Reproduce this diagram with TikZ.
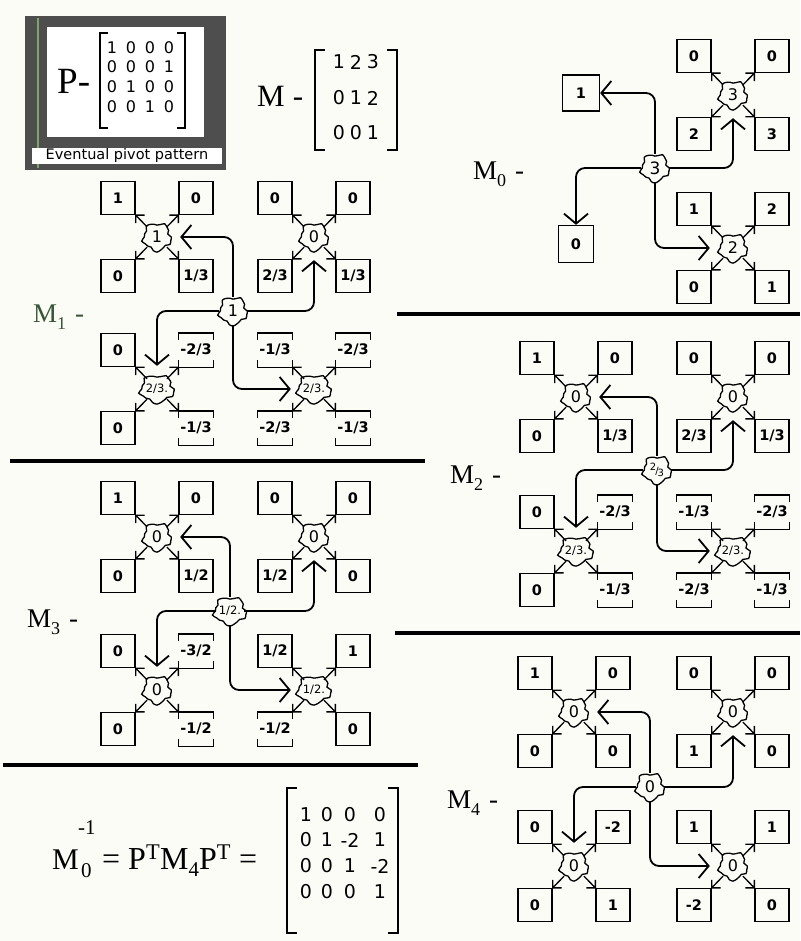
\documentclass[tikz,border=0pt]{standalone}
\usepackage{fontspec}
\setmainfont{Liberation Serif}
\newfontfamily\sansf{DejaVu Sans}
\usetikzlibrary{arrows.meta}
\definecolor{bgc}{RGB}{252,252,247}
\definecolor{framec}{RGB}{78,78,78}
\definecolor{greenc}{RGB}{125,165,105}
\definecolor{mgreen}{RGB}{55,85,55}
\newcommand\boxfont{\sansf\bfseries\fontsize{14.5}{14.5}\selectfont}
\newcommand\blobfont{\sansf\fontsize{16}{16}\selectfont}
\newcommand\smb[1]{{\sansf\fontsize{11.5}{11.5}\selectfont #1}}
\newcommand\stk{{\sansf\fontsize{10}{10}\selectfont\raisebox{3.5pt}{2}\kern-1pt/\kern-1pt\raisebox{-2.5pt}{3}}}
\newcommand\mlabel[1]{M\raisebox{-7pt}{\fontsize{18}{18}\selectfont #1}\hspace{9pt}-}
\tikzset{
  boxline/.style={line width=1.3pt},
  qbox/.style={draw, boxline, minimum width=34pt, minimum height=33pt, inner sep=0pt, font=\boxfont},
  bnode/.style={circle, minimum size=28pt, inner sep=0pt, font=\blobfont},
  blobline/.style={line width=1.3pt},
  mytick/.style={line width=1.3pt},
  myarr/.style={line width=1.8pt, rounded corners=9pt, -{Straight Barb[length=10pt,width=24pt]}, shorten >=9pt},
  mysep/.style={line width=4pt},
  brk/.style={line width=1.8pt},
  mlab/.style={anchor=base west, inner sep=0pt, font=\fontsize{27}{27}\selectfont},
  pent/.style={inner sep=0pt, font=\sansf\fontsize{16}{16}\selectfont},
  ment/.style={inner sep=0pt, font=\sansf\fontsize{19}{19}\selectfont},
}
\newcommand\drawblob[3]{\draw[blobline, shift={(#1,#2)}, xscale=#3] plot[smooth cycle, samples=24, domain=0:345, variable=\t] ({(13.5+1.6*sin(5*\t)+0.8*cos(11*\t))*cos(\t)}, {(13.5+1.6*sin(5*\t)+0.8*cos(11*\t))*sin(\t)});}
\newcommand\qb[3]{\node[qbox] (#2) at #3 {#1};}
\newcommand\qc[3]{\node[qbox, draw=none] (#2) at #3 {#1};
  \draw[boxline] ([yshift=-7pt]#2.north west) -- (#2.north west) -- (#2.north east) -- ([yshift=-7pt]#2.north east)
    ([yshift=7pt]#2.south west) -- (#2.south west) -- (#2.south east) -- ([yshift=7pt]#2.south east);}
\newcommand\Qgrp[9]{%
  \node[bnode] (#1) at (#2,#3) {#4};
  \drawblob{#2}{#3}{#5}
  #6{#1a}{({#2-39},{#3-39})}
  #7{#1b}{({#2+39},{#3-39})}
  #8{#1c}{({#2-39},{#3+39})}
  #9{#1d}{({#2+39},{#3+39})}
  \draw[mytick] (#1a.south east) -- ++(9,0) (#1a.south east) -- ++(0,8) (#1a.south east) -- (#1);
  \draw[mytick] (#1b.south west) -- ++(-9,0) (#1b.south west) -- ++(0,8) (#1b.south west) -- (#1);
  \draw[mytick] (#1c.north east) -- ++(9,0) (#1c.north east) -- ++(0,-8) (#1c.north east) -- (#1);
  \draw[mytick] (#1d.north west) -- ++(-9,0) (#1d.north west) -- ++(0,-8) (#1d.north west) -- (#1);
}
\begin{document}
\begin{tikzpicture}[x=1pt,y=-1pt]
\useasboundingbox (0,0) rectangle (800,941);
\fill[bgc] (0,0) rectangle (800,941);

% ---- P frame ----
\fill[framec] (25,16) rectangle (226,170);
\draw[greenc, line width=2.5pt] (38,18) -- (38,168);
\fill[white] (47,27) rectangle (204,137);
\node[fill=white, minimum width=190pt, minimum height=16pt, inner sep=0pt, font=\sansf\fontsize{14.5}{14.5}\selectfont] (evp) at (127,156) {Eventual pivot pattern};
\node[anchor=base west, inner sep=0pt, font=\fontsize{37}{37}\selectfont] (plab) at (57,94) {P-};
\draw[brk] (108,33) -- (100,33) -- (100,128) -- (108,128);
\draw[brk] (177,33) -- (185,33) -- (185,128) -- (177,128);
\foreach \y/\a/\b/\c/\d [count=\i] in {48/1/0/0/0, 67/0/0/0/1, 87/0/1/0/0, 107/0/0/1/0} {
  \node[pent] (pa\i) at (112,\y) {\a};
  \node[pent] (pb\i) at (131,\y) {\b};
  \node[pent] (pc\i) at (150,\y) {\c};
  \node[pent] (pd\i) at (169,\y) {\d};
}

% ---- M matrix ----
\node[anchor=base west, inner sep=0pt, font=\fontsize{31}{31}\selectfont] (mlab) at (257,107) {M\hspace{8pt}-};
\draw[brk] (325,50) -- (315,50) -- (315,150) -- (325,150);
\draw[brk] (387,50) -- (397,50) -- (397,150) -- (387,150);
\foreach \y/\a/\b/\c [count=\i] in {62/1/2/3, 98/0/1/2, 133/0/0/1} {
  \node[ment] (ma\i) at (339,\y) {\a};
  \node[ment] (mb\i) at (356,\y) {\b};
  \node[ment] (mc\i) at (373,\y) {\c};
}

% ---- separators ----
\draw[mysep] (397,314) -- (800,314);
\draw[mysep] (10,461) -- (425,461);
\draw[mysep] (395,633) -- (800,633);
\draw[mysep] (3,765) -- (418,765);

% ---- M0 ----
\node[mlab] (l0) at (473,180) {\mlabel{0}};
\node[bnode, font=\sansf\fontsize{17}{17}\selectfont] (c0) at (655,168) {3};
\drawblob{655}{168}{1}
\node[qbox, minimum width=37pt, minimum height=36pt] (m0one) at (581,93) {1};
\node[qbox, minimum width=35pt, minimum height=37pt] (m0zero) at (576,244) {0};
\Qgrp{m0q}{733}{95}{3}{1}{\qb{0}}{\qb{0}}{\qb{2}}{\qb{3}}
\Qgrp{m0r}{733}{248}{2}{1}{\qb{1}}{\qb{2}}{\qb{0}}{\qb{1}}
\draw[myarr, shorten >=0pt] (c0) |- (m0one);
\draw[myarr, shorten >=0pt] (c0) -| (m0zero);
\draw[myarr] (c0) -| (m0q);
\draw[myarr] (c0) |- (m0r);

% ---- M1 ----
\node[mlab, text=mgreen] (l1) at (33,322) {\mlabel{1}};
\node[bnode] (c1) at (233,311) {1};
\drawblob{233}{311}{1}
\Qgrp{m1a}{157}{237}{1}{1}{\qb{1}}{\qb{0}}{\qb{0}}{\qb{1/3}}
\Qgrp{m1b}{314}{237}{0}{1}{\qb{0}}{\qb{0}}{\qb{2/3}}{\qb{1/3}}
\Qgrp{m1c}{157}{389}{\smb{2/3.}}{1.2}{\qb{0}}{\qc{-2/3}}{\qb{0}}{\qc{-1/3}}
\Qgrp{m1d}{314}{389}{\smb{2/3.}}{1.2}{\qc{-1/3}}{\qc{-2/3}}{\qc{-2/3}}{\qc{-1/3}}
\draw[myarr] (c1) |- (m1a);
\draw[myarr] (c1) -| (m1b);
\draw[myarr] (c1) -| (m1c);
\draw[myarr] (c1) |- (m1d);

% ---- M2 ----
\node[mlab] (l2) at (450,483) {\mlabel{2}};
\node[bnode] (c2) at (657,470) {\stk};
\drawblob{657}{470}{1}
\Qgrp{m2a}{576}{397}{0}{1}{\qb{1}}{\qb{0}}{\qb{0}}{\qb{1/3}}
\Qgrp{m2b}{733}{397}{0}{1}{\qb{0}}{\qb{0}}{\qb{2/3}}{\qb{1/3}}
\Qgrp{m2c}{576}{551}{\smb{2/3.}}{1.2}{\qb{0}}{\qc{-2/3}}{\qb{0}}{\qc{-1/3}}
\Qgrp{m2d}{733}{551}{\smb{2/3.}}{1.2}{\qc{-1/3}}{\qc{-2/3}}{\qc{-2/3}}{\qc{-1/3}}
\draw[myarr] (c2) |- (m2a);
\draw[myarr] (c2) -| (m2b);
\draw[myarr] (c2) -| (m2c);
\draw[myarr] (c2) |- (m2d);

% ---- M3 ----
\node[mlab] (l3) at (27,627) {\mlabel{3}};
\node[bnode] (c3) at (230,611) {\smb{1/2.}};
\drawblob{230}{611}{1.15}
\Qgrp{m3a}{157}{537}{0}{1}{\qb{1}}{\qb{0}}{\qb{0}}{\qb{1/2}}
\Qgrp{m3b}{314}{537}{0}{1}{\qb{0}}{\qb{0}}{\qb{1/2}}{\qb{0}}
\Qgrp{m3c}{157}{690}{0}{1}{\qb{0}}{\qc{-3/2}}{\qb{0}}{\qc{-1/2}}
\Qgrp{m3d}{314}{690}{\smb{1/2.}}{1.2}{\qb{1/2}}{\qb{1}}{\qc{-1/2}}{\qb{0}}
\draw[myarr] (c3) |- (m3a);
\draw[myarr] (c3) -| (m3b);
\draw[myarr] (c3) -| (m3c);
\draw[myarr] (c3) |- (m3d);

% ---- M4 ----
\node[mlab] (l4) at (447,808) {\mlabel{4}};
\node[bnode] (c4) at (650,787) {0};
\drawblob{650}{787}{1}
\Qgrp{m4a}{574}{712}{0}{1}{\qb{1}}{\qb{0}}{\qb{0}}{\qb{0}}
\Qgrp{m4b}{733}{712}{0}{1}{\qb{0}}{\qb{0}}{\qb{1}}{\qb{0}}
\Qgrp{m4c}{574}{866}{0}{1}{\qb{0}}{\qb{-2}}{\qb{0}}{\qb{1}}
\Qgrp{m4d}{733}{866}{0}{1}{\qb{1}}{\qb{1}}{\qb{-2}}{\qb{0}}
\draw[myarr] (c4) |- (m4a);
\draw[myarr] (c4) -| (m4b);
\draw[myarr] (c4) -| (m4c);
\draw[myarr] (c4) |- (m4d);

% ---- inverse formula ----
\node[anchor=base west, inner sep=0pt, font=\fontsize{30}{30}\selectfont] (invm) at (52,869) {M};
\node[anchor=base west, inner sep=0pt, font=\fontsize{21}{21}\selectfont] (invsub) at (81,877) {0};
\node[anchor=base west, inner sep=0pt, font=\fontsize{21}{21}\selectfont] (invsup) at (78,834) {-1};
\node[anchor=base west, inner sep=0pt, font=\fontsize{32}{32}\selectfont] (inveq) at (102,869)
  {= P\textsuperscript{T}M\raisebox{-7pt}{\fontsize{21}{21}\selectfont 4}P\textsuperscript{T} =};
\draw[brk] (297,788) -- (287,788) -- (287,933) -- (297,933);
\draw[brk] (388,788) -- (398,788) -- (398,933) -- (388,933);
\foreach \y/\a/\b/\c/\d [count=\i] in {815/1/0/0/0, 840/0/1/-2/1, 866/0/0/1/-2, 892/0/0/0/1} {
  \node[ment] (fa\i) at (306,\y) {\a};
  \node[ment] (fb\i) at (327,\y) {\b};
  \node[ment] (fc\i) at (350,\y) {\c};
  \node[ment] (fd\i) at (380,\y) {\d};
}
\end{tikzpicture}
\end{document}
